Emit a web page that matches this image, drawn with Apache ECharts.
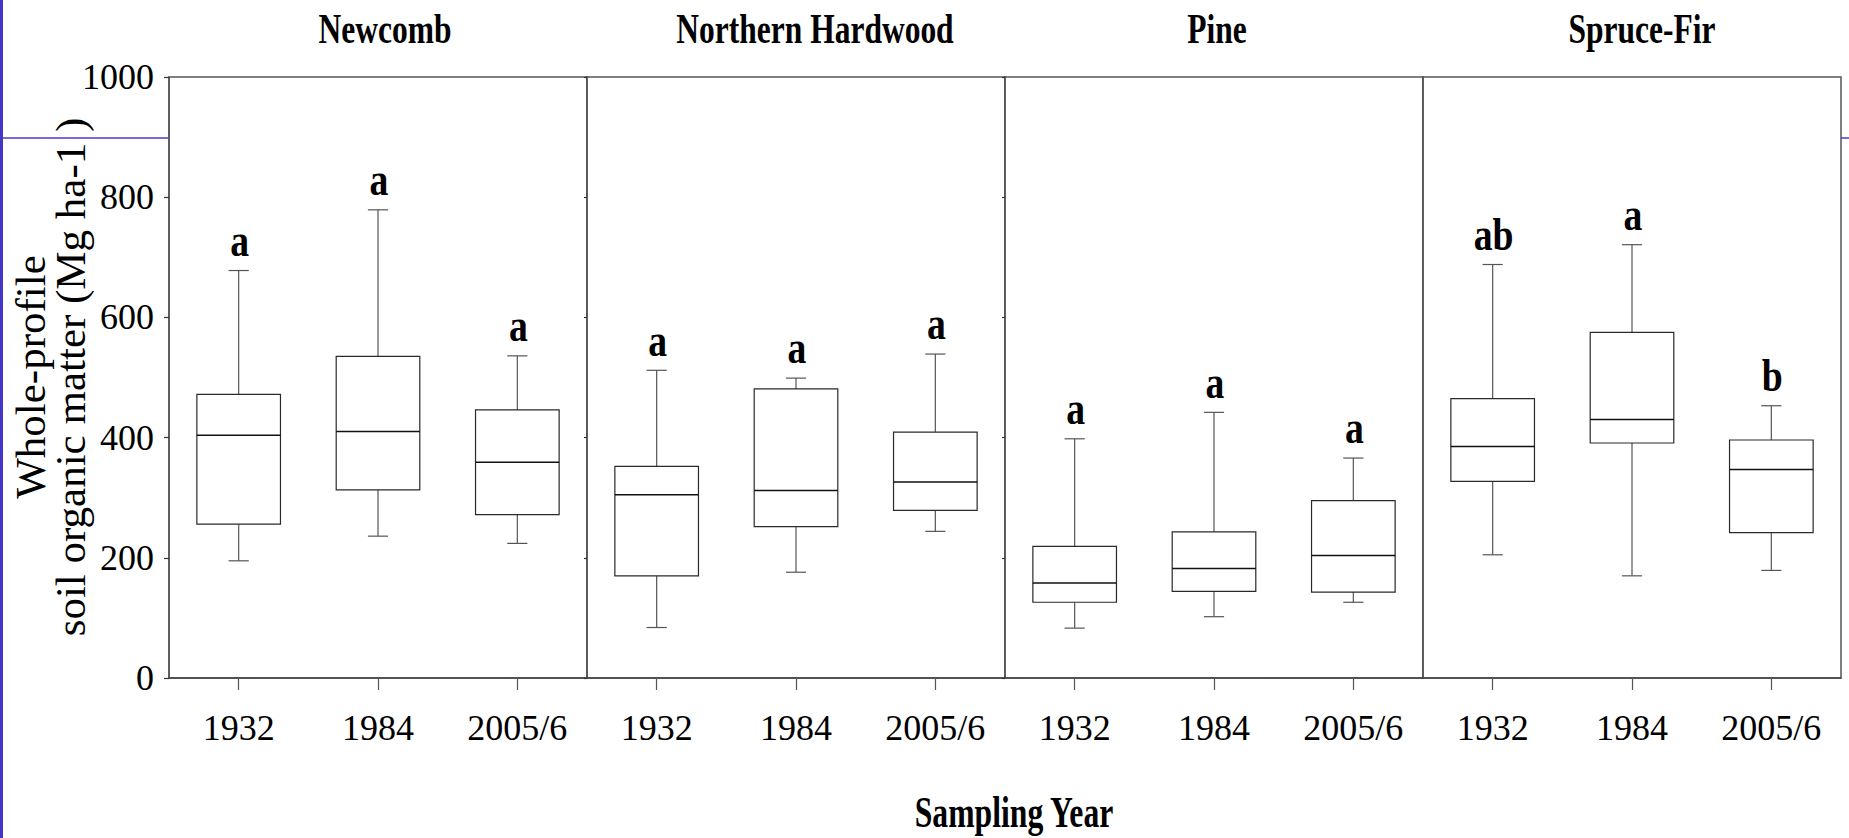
<!DOCTYPE html>
<html><head><meta charset="utf-8">
<script src="https://cdn.jsdelivr.net/npm/echarts@6/dist/echarts.min.js"></script>
<style>html,body{margin:0;padding:0;background:#fff;overflow:hidden}#c{width:1849px;height:838px}</style>
</head><body><div id="c"></div>
<script>
// ---- data ----
const panelNames = ['Newcomb', 'Northern Hardwood', 'Pine', 'Spruce-Fir'];
const categories = ['1932', '1984', '2005/6'];
const yMin = 0, yMax = 1000, yStep = 200;
// [min, q1, median, q3, max]
const newcomb = [[195, 256, 404, 472, 678], [236, 313, 410, 535, 779], [224, 272, 359, 446, 536]];
const northernHardwood = [[84, 170, 305, 352, 512], [176, 252, 312, 481, 499], [244, 279, 326, 409, 539]];
const pine = [[83, 126, 158, 219, 398], [102, 144, 182, 243, 442], [126, 143, 204, 295, 366]];
const spruceFir = [[205, 327, 385, 465, 688], [170, 391, 430, 575, 721], [179, 242, 347, 396, 453]];
const newcombLetters = ['a', 'a', 'a'];
const northernHardwoodLetters = ['a', 'a', 'a'];
const pineLetters = ['a', 'a', 'a'];
const spruceFirLetters = ['ab', 'a', 'b'];
const xAxisTitle = 'Sampling Year';
const yAxisTitle = 'Whole-profile\nsoil organic matter (Mg ha-1 )';

const panelStats = [newcomb, northernHardwood, pine, spruceFir];
const panelLetters = [newcombLetters, northernHardwoodLetters, pineLetters, spruceFirLetters];

// ---- layout ----
const gridLefts = [169, 587, 1005, 1423];
const gridW = 418, gridTop = 77, gridH = 601;
const titleXs = [385, 815, 1217, 1642];
const serif = 'Liberation Serif, Times New Roman, serif';

function makeRender(letters) {
  return function (params, api) {
    const i = api.value(0);
    const p = api.coord([i, api.value(1)]);
    const x = p[0], yLo = p[1];
    const yQ1 = api.coord([i, api.value(2)])[1];
    const yMed = api.coord([i, api.value(3)])[1];
    const yQ3 = api.coord([i, api.value(4)])[1];
    const yHi = api.coord([i, api.value(5)])[1];
    const band = api.size([1, 0])[0];
    const bw = band * 0.6, cw = band * 0.145;
    const wStyle = { stroke: '#555', lineWidth: 1.2 };
    const bStyle = { stroke: '#2a2a2a', lineWidth: 1.2, fill: '#fff' };
    return {
      type: 'group',
      children: [
        { type: 'line', shape: { x1: x, y1: yHi, x2: x, y2: yQ3 }, style: wStyle },
        { type: 'line', shape: { x1: x, y1: yQ1, x2: x, y2: yLo }, style: wStyle },
        { type: 'line', shape: { x1: x - cw / 2, y1: yHi, x2: x + cw / 2, y2: yHi }, style: wStyle },
        { type: 'line', shape: { x1: x - cw / 2, y1: yLo, x2: x + cw / 2, y2: yLo }, style: wStyle },
        { type: 'rect', shape: { x: x - bw / 2, y: yQ3, width: bw, height: yQ1 - yQ3 }, style: bStyle },
        { type: 'line', shape: { x1: x - bw / 2, y1: yMed, x2: x + bw / 2, y2: yMed }, style: { stroke: '#111', lineWidth: 1.5 } },
        { type: 'text', x: x + 1, y: yHi - 30, scaleX: 0.82,
          style: { x: 0, y: 0, text: letters[params.dataIndex], fill: '#000',
                   fontFamily: serif, fontWeight: 'bold', fontSize: 46, align: 'center', verticalAlign: 'middle' } }
      ]
    };
  };
}

const grids = [], xAxes = [], yAxes = [], series = [];
for (let k = 0; k < 4; k++) {
  grids.push({ left: gridLefts[k], top: gridTop, width: gridW, height: gridH, show: true,
               backgroundColor: '#fff', borderColor: '#555', borderWidth: 1.5,
               containLabel: false, outerBoundsMode: 'none' });
  xAxes.push({ type: 'category', gridIndex: k, data: categories, boundaryGap: true,
               axisLine: { show: true, lineStyle: { color: '#444', width: 1.5 } },
               axisTick: { show: true, alignWithLabel: true, length: 12, lineStyle: { color: '#555', width: 1.2 } },
               axisLabel: { show: true, margin: 32, color: '#000', fontSize: 36, fontFamily: serif },
               splitLine: { show: false } });
  yAxes.push({ type: 'value', gridIndex: k, min: yMin, max: yMax, interval: yStep,
               axisLine: { show: true, lineStyle: { color: '#555', width: 1.5 } },
               axisTick: { show: k < 3, length: k === 0 ? 5 : 3, lineStyle: { color: '#333', width: 1.2 } },
               axisLabel: { show: k === 0, margin: 15, color: '#000', fontSize: 36, fontFamily: serif,
                            formatter: v => String(v) },
               splitLine: { show: false } });
  series.push({ type: 'custom', xAxisIndex: k, yAxisIndex: k, clip: false,
                renderItem: makeRender(panelLetters[k]),
                encode: { x: 0, y: [1, 2, 3, 4, 5] },
                data: panelStats[k].map((s, i) => [i].concat(s)) });
}

const graphics = [
  { type: 'rect', shape: { x: 0, y: 0, width: 3, height: 838 }, style: { fill: '#4636c6' }, z: 10 },
  { type: 'line', shape: { x1: 0, y1: 138, x2: 169, y2: 138 }, style: { stroke: '#4a3ad0', lineWidth: 1.5 }, z: -1 },
  { type: 'line', shape: { x1: 1841, y1: 138, x2: 1849, y2: 138 }, style: { stroke: '#4a3ad0', lineWidth: 1.5 }, z: -1 },
  { type: 'text', x: 50, y: 377, rotation: Math.PI / 2,
    style: { text: yAxisTitle, fontFamily: serif, fontSize: 43, fill: '#000', align: 'center', verticalAlign: 'middle', lineHeight: 40 } },
  { type: 'text', x: 1014, y: 812, scaleX: 0.72,
    style: { text: xAxisTitle, fontFamily: serif, fontWeight: 'bold', fontSize: 44, fill: '#000', align: 'center', verticalAlign: 'middle' } }
];
panelNames.forEach((n, k) => {
  graphics.push({ type: 'text', x: titleXs[k], y: 29, scaleX: 0.75,
    style: { text: n, fontFamily: serif, fontWeight: 'bold', fontSize: 42, fill: '#000', align: 'center', verticalAlign: 'middle' } });
});

const chart = echarts.init(document.getElementById('c'), null, { renderer: 'svg' });
chart.setOption({
  animation: false,
  backgroundColor: '#fff',
  grid: grids, xAxis: xAxes, yAxis: yAxes, series: series,
  graphic: graphics
});
</script></body></html>
